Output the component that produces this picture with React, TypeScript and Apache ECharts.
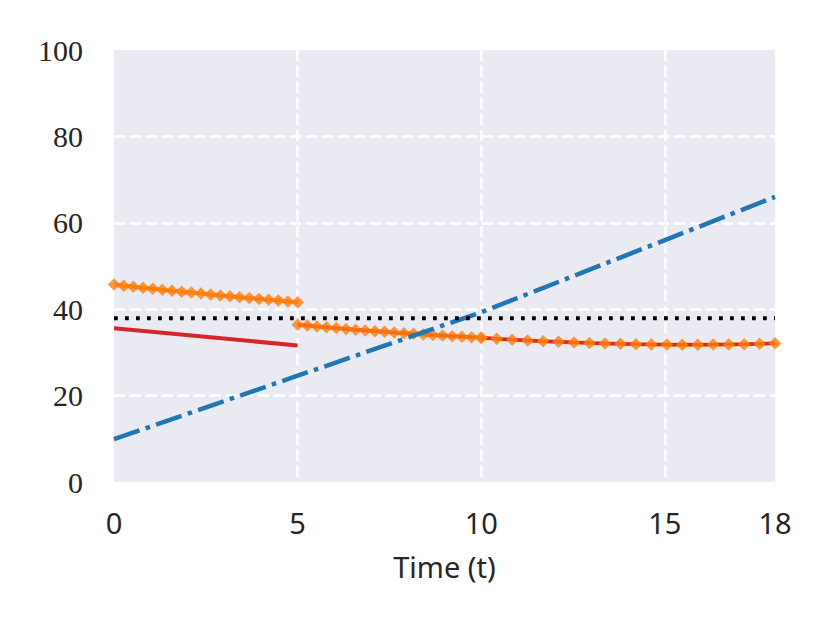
import React, { useEffect, useRef } from "react";
import * as echarts from "echarts";

// Time grids (three simulation segments)
const seg1T = [0, 0.263, 0.526, 0.789, 1.053, 1.316, 1.579, 1.842, 2.105, 2.368, 2.632, 2.895, 3.158, 3.421, 3.684, 3.947, 4.211, 4.474, 4.737, 5];
const seg2T = [5, 5.263, 5.526, 5.789, 6.053, 6.316, 6.579, 6.842, 7.105, 7.368, 7.632, 7.895, 8.158, 8.421, 8.684, 8.947, 9.211, 9.474, 9.737, 10];
const seg3T = [10, 10.421, 10.842, 11.263, 11.684, 12.105, 12.526, 12.947, 13.368, 13.789, 14.211, 14.632, 15.053, 15.474, 15.895, 16.316, 16.737, 17.158, 17.579, 18];

// Orange (diamond markers) values
const orange1 = [45.7, 45.45, 45.21, 44.97, 44.74, 44.51, 44.28, 44.06, 43.84, 43.62, 43.41, 43.2, 42.99, 42.79, 42.59, 42.39, 42.19, 42.0, 41.8, 41.6];
const orange2 = [36.4, 36.2, 36.0, 35.81, 35.62, 35.44, 35.26, 35.09, 34.92, 34.76, 34.6, 34.45, 34.3, 34.16, 34.02, 33.89, 33.76, 33.64, 33.52, 33.4];
const orange3 = [33.4, 33.15, 32.95, 32.78, 32.6, 32.45, 32.3, 32.18, 32.07, 31.98, 31.9, 31.84, 31.8, 31.78, 31.78, 31.8, 31.84, 31.9, 31.98, 32.1];

// Red solid line (first segment)
const redT = [0, 5];
const redV = [35.6, 31.6];

// Blue dash-dot line
const blueT = [0, 5, 10, 18];
const blueV = [9.9, 24.6, 39.3, 66.0];

// Black dotted reference level
const blackT = [0, 18];
const blackV = [37.9, 37.9];

// Axis ticks
const xTicks = [0, 5, 10, 15, 18];
const yTicks = [0, 20, 40, 60, 80, 100];

const BLUE = "#1f77b4";
const ORANGE = "#ff7f0e";
const RED = "#d62728";
const TEXT = "#262626";
const SANS = "'Noto Sans', 'DejaVu Sans', sans-serif";
const SERIF = "'Liberation Serif', 'DejaVu Serif', serif";

const zip = (xs: number[], ys: number[]) => xs.map((x, i) => [x, ys[i]]);

export default function App() {
  const ref = useRef<HTMLDivElement>(null);
  useEffect(() => {
    if (!ref.current) return;
    const chart = echarts.init(ref.current, null, { renderer: "svg" });
    const orangeSegs = [zip(seg1T, orange1), zip(seg2T, orange2), zip(seg3T, orange3)];
    const series: any[] = [];
    orangeSegs.forEach((d) => {
      series.push({
        type: "line",
        data: d,
        showSymbol: false,
        lineStyle: { color: ORANGE, width: 4 },
        z: 2,
        silent: true,
      });
    });
    series.push({
      type: "line",
      data: zip(redT, redV),
      showSymbol: false,
      lineStyle: { color: RED, width: 4, cap: "butt" },
      z: 3,
    });
    [orangeSegs[1], orangeSegs[2]].forEach((d) => {
      series.push({
        type: "line",
        data: d,
        showSymbol: false,
        lineStyle: { color: RED, width: 3.2 },
        z: 3,
      });
    });
    series.push({
      type: "scatter",
      data: [...orangeSegs[0], ...orangeSegs[1], ...orangeSegs[2]],
      symbol: "diamond",
      symbolSize: 12.5,
      itemStyle: { color: ORANGE },
      z: 4,
    });
    series.push({
      type: "line",
      data: zip(blueT, blueV),
      showSymbol: false,
      lineStyle: { color: BLUE, width: 4.5, type: [27, 6.5, 4.5, 6.5], cap: "butt" },
      z: 5,
    });
    series.push({
      type: "line",
      data: zip(blackT, blackV),
      showSymbol: false,
      lineStyle: { color: "#000000", width: 3.8, type: [3.8, 7.2], cap: "butt" },
      z: 6,
    });

    chart.setOption({
      animation: false,
      backgroundColor: "#ffffff",
      grid: {
        left: 114,
        right: 55,
        top: 50,
        bottom: 141,
        show: true,
        backgroundColor: "#EAEAF2",
        borderWidth: 0,
      },
      xAxis: {
        type: "value",
        min: xTicks[0],
        max: xTicks[xTicks.length - 1],
        interval: 5,
        name: "Time (t)",
        nameLocation: "middle",
        nameGap: 70,
        nameTextStyle: { fontFamily: SANS, fontSize: 29, color: TEXT },
        axisLine: { show: false },
        axisTick: { show: false },
        axisLabel: {
          fontFamily: SANS,
          fontSize: 29,
          color: TEXT,
          margin: 26,
          customValues: xTicks,
        },
        splitLine: {
          show: true,
          showMinLine: false,
          showMaxLine: false,
          lineStyle: { color: "#ffffff", width: 2.6, type: [11, 5] },
        },
      },
      yAxis: {
        type: "value",
        min: yTicks[0],
        max: yTicks[yTicks.length - 1],
        interval: 20,
        axisLine: { show: false },
        axisTick: { show: false },
        axisLabel: {
          fontFamily: SERIF,
          fontSize: 30,
          color: TEXT,
          margin: 31,
        },
        splitLine: {
          show: true,
          showMinLine: false,
          showMaxLine: false,
          lineStyle: { color: "#ffffff", width: 2.6, type: [11, 5] },
        },
      },
      series,
    });
    return () => chart.dispose();
  }, []);
  return (
    <div
      ref={ref}
      style={{ position: "absolute", left: 0, top: 0, width: 830, height: 623, background: "#fff" }}
    />
  );
}
